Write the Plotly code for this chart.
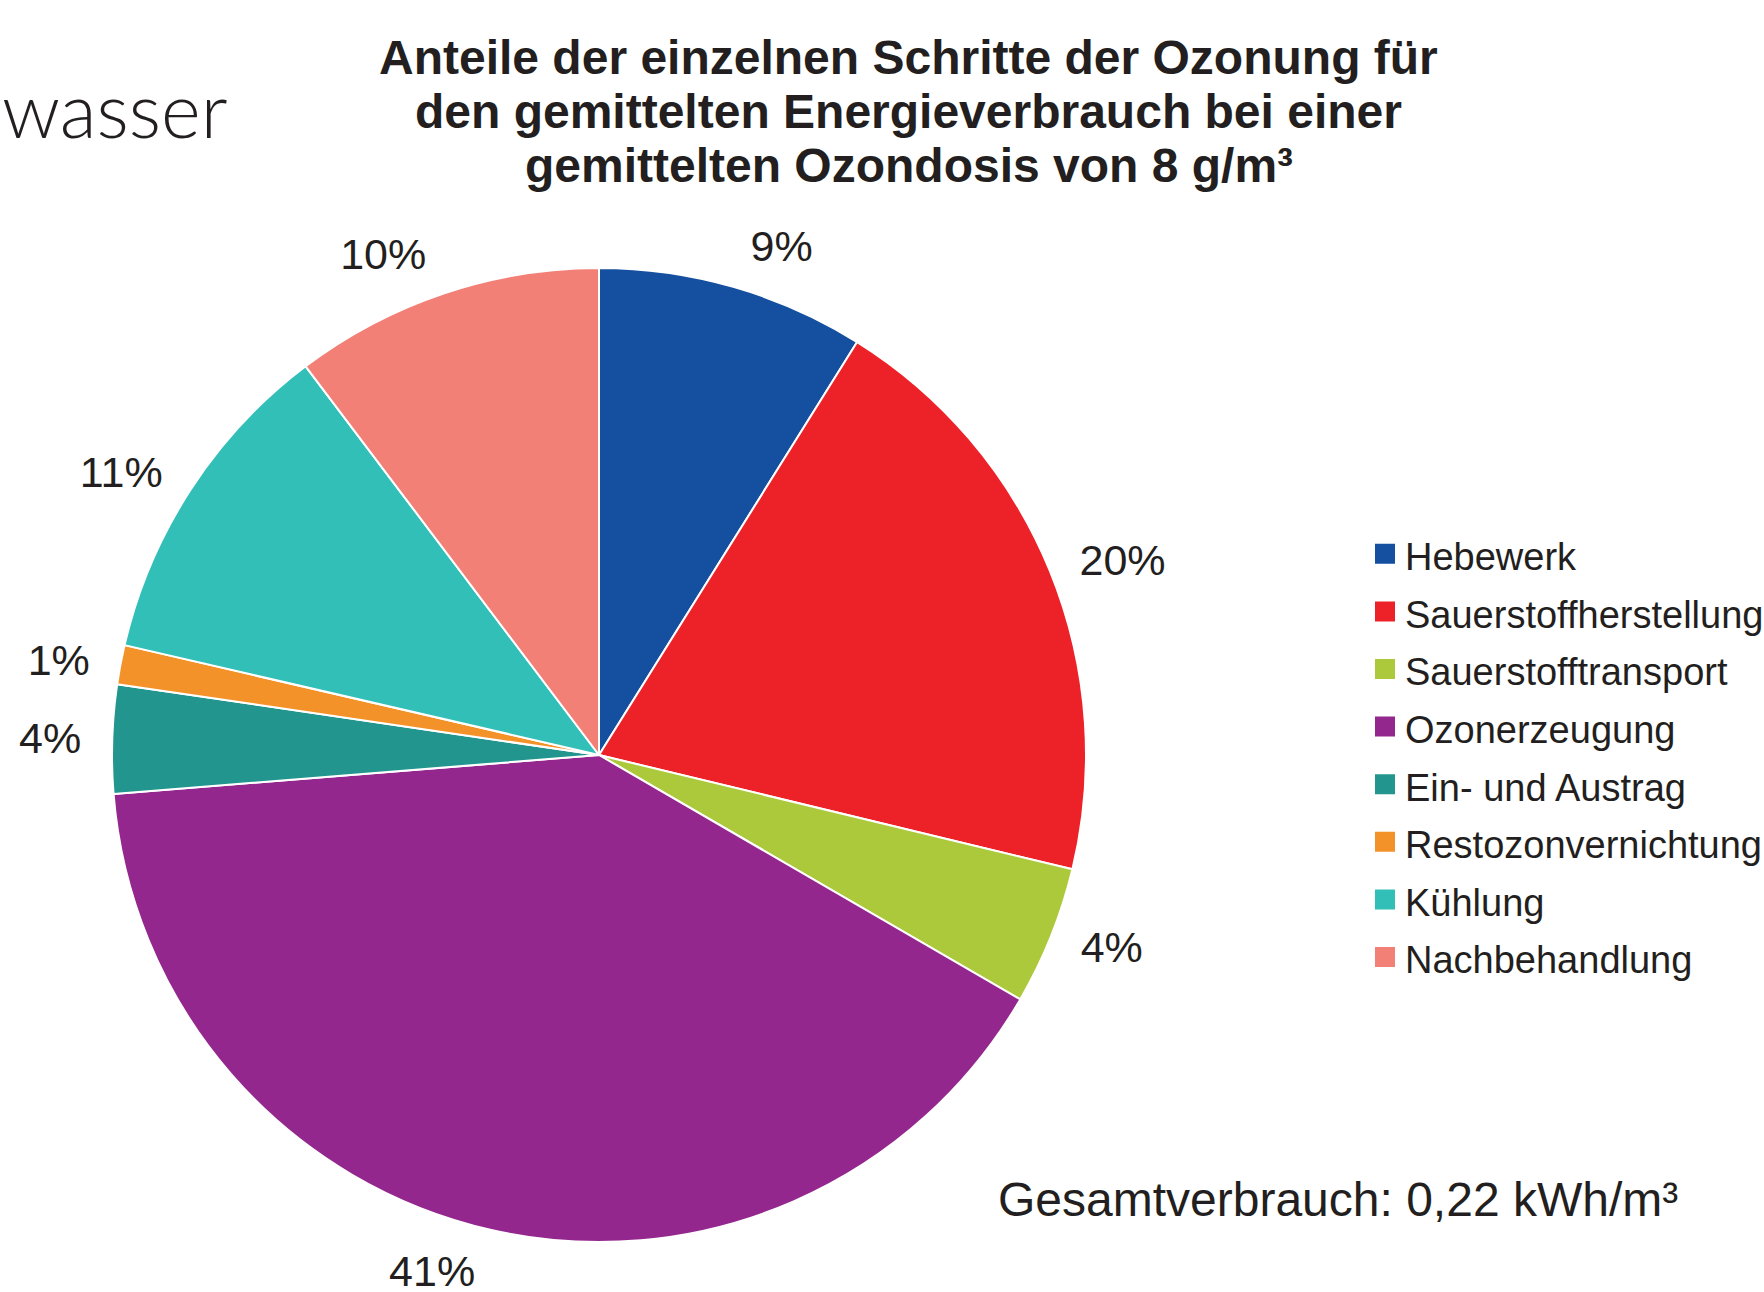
import plotly.graph_objects as go

categories = ["Hebewerk", "Sauerstoffherstellung", "Sauerstofftransport", "Ozonerzeugung",
              "Ein- und Austrag", "Restozonvernichtung", "Kühlung", "Nachbehandlung"]
shares = [8.9, 19.9, 4.6, 40.4, 3.6, 1.3, 11.1, 10.3]
share_labels = ["9%", "20%", "4%", "41%", "4%", "1%", "11%", "10%"]
colors = ["#1550a0", "#ed2229", "#acc93b", "#93278d", "#21958e", "#f4922a", "#31bfb8", "#f28077"]
title_lines = ["Anteile der einzelnen Schritte der Ozonung für",
               "den gemittelten Energieverbrauch bei einer",
               "gemittelten Ozondosis von 8 g/m³"]

W, H = 1764, 1292
TXT = "#231f20"
FONT = "Liberation Sans, Arial, Helvetica"

CX, CY, R = 599, 755, 487      # pie centre / radius in pixels
RL = 506                       # radius of invisible pie that carries labels


def dom(r):
    return dict(x=[(CX - r) / W, (CX + r) / W], y=[(H - CY - r) / H, (H - CY + r) / H])


fig = go.Figure()
# visible pie
fig.add_trace(go.Pie(
    labels=categories,
    values=shares,
    textinfo="none",
    sort=False,
    direction="clockwise",
    rotation=0,
    marker=dict(colors=colors, line=dict(color="white", width=2)),
    domain=dom(R),
    automargin=False,
    showlegend=False,
    hoverinfo="label+percent",
))
# transparent pie carrying the percentage labels slightly further out
fig.add_trace(go.Pie(
    labels=categories,
    values=shares,
    text=share_labels,
    textinfo="text",
    textposition="outside",
    sort=False,
    direction="clockwise",
    rotation=0,
    marker=dict(colors=["rgba(0,0,0,0)"] * len(categories), line=dict(width=0)),
    outsidetextfont=dict(family=FONT, size=43, color=TXT),
    domain=dom(RL),
    automargin=False,
    showlegend=False,
    hoverinfo="skip",
))
# legend entries (square swatches)
for name, col in zip(categories, colors):
    fig.add_trace(go.Scatter(
        x=[None], y=[None], mode="markers", name="<span style='font-size:38px'>%s</span>" % name,
        marker=dict(symbol="square", size=16, color=col, line=dict(color=col, width=4)),
        hoverinfo="skip",
    ))

annotations = [
    dict(text="wasser", x=0, xref="paper", xanchor="left", y=1 - 109 / H, yref="paper",
         yanchor="middle", showarrow=False,
         font=dict(family="Lato", size=76, color=TXT, weight=300)),
    dict(text="Gesamtverbrauch: 0,22 kWh/m³", x=996 / W, xref="paper", xanchor="left",
         y=1 - 1199 / H, yref="paper", yanchor="middle", showarrow=False,
         font=dict(family=FONT, size=48, color=TXT)),
]
for i, line in enumerate(title_lines):
    annotations.append(dict(
        text="<b>%s</b>" % line, x=909 / W, xref="paper", xanchor="center",
        y=1 - (58 + 53.5 * i) / H, yref="paper", yanchor="middle", showarrow=False,
        font=dict(family=FONT, size=48, color=TXT)))

fig.update_layout(
    width=W, height=H,
    margin=dict(l=0, r=0, t=0, b=0, autoexpand=False),
    paper_bgcolor="white", plot_bgcolor="white",
    xaxis=dict(visible=False), yaxis=dict(visible=False),
    legend=dict(
        x=1365 / W, xanchor="left", y=1 - 520 / H, yanchor="top",
        font=dict(family=FONT, size=42, color=TXT),
        bgcolor="rgba(0,0,0,0)", itemsizing="trace",
    ),
    annotations=annotations,
)

fig.write_html("out.html")
